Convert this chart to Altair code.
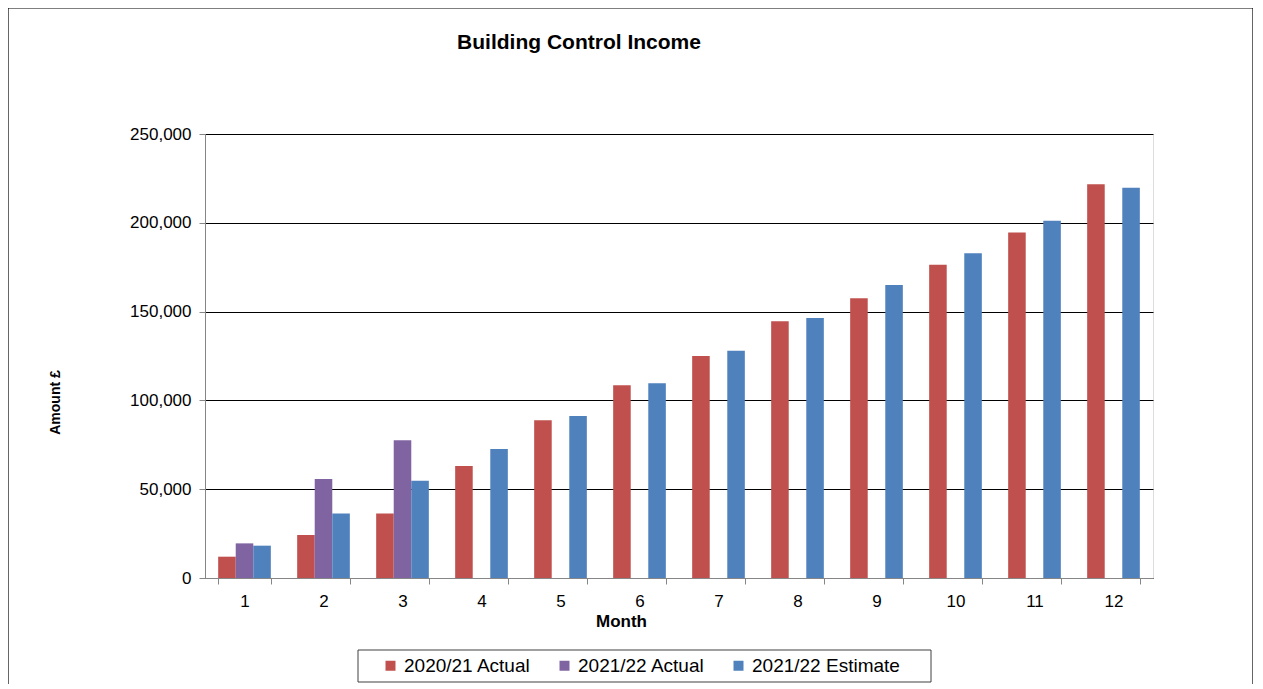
import altair as alt
import pandas as pd

months = list(range(1, 13))
series_names = ["2020/21 Actual", "2021/22 Actual", "2021/22 Estimate"]
actual_2020_21 = [12000, 24200, 36300, 63000, 88800, 108500, 125000, 144500, 157500, 176400, 194600, 221700]
actual_2021_22 = [19500, 55700, 77500]  # months 1-3 only
estimate_2021_22 = [18200, 36300, 54800, 72600, 91200, 109600, 128000, 146400, 165000, 182800, 201200, 219800]
colors = ["#C0504D", "#8064A2", "#4F81BD"]
y_ticks = [0, 50000, 100000, 150000, 200000, 250000]
chart_title = "Building Control Income"

rows = []
for m, v in zip(months, actual_2020_21):
    rows.append({"month": m, "series": series_names[0], "amount": v})
for m, v in zip(months, actual_2021_22):
    rows.append({"month": m, "series": series_names[1], "amount": v})
for m, v in zip(months, estimate_2021_22):
    rows.append({"month": m, "series": series_names[2], "amount": v})
df = pd.DataFrame(rows)

FONT = "Liberation Sans"

bars = alt.Chart(df).mark_bar().encode(
    x=alt.X(
        "month:O",
        scale=alt.Scale(paddingInner=1 / 3, paddingOuter=1 / 6),
        axis=alt.Axis(
            title="Month",
            labelAngle=0,
            tickBand="extent",
            tickSize=6,
            tickColor="#868686",
            domainColor="#868686",
            labelFont=FONT,
            labelFontSize=17,
            labelColor="#000000",
            labelPadding=9,
            titleFont=FONT,
            titleFontSize=17,
            titleFontWeight="bold",
            titleColor="#000000",
            titleX=416,
            titleY=43,
            titleAnchor="start",
            titleAlign="center",
            titleBaseline="middle",
            grid=False,
        ),
    ),
    xOffset=alt.XOffset(
        "series:N",
        sort=series_names,
        scale=alt.Scale(paddingInner=0, paddingOuter=0),
    ),
    y=alt.Y(
        "amount:Q",
        scale=alt.Scale(domain=[0, 250000], nice=False),
        axis=alt.Axis(
            title="Amount £",
            values=y_ticks,
            format=",d",
            tickSize=6,
            tickColor="#868686",
            domainColor="#868686",
            gridColor="#000000",
            gridWidth=1,
            labelFont=FONT,
            labelFontSize=17,
            labelColor="#000000",
            labelPadding=8,
            titleFont=FONT,
            titleFontSize=14,
            titleFontWeight="bold",
            titleColor="#000000",
            titleX=-150,
            titleY=268,
            titleAnchor="start",
            titleAlign="center",
            titleBaseline="middle",
        ),
    ),
    color=alt.Color(
        "series:N",
        sort=series_names,
        scale=alt.Scale(domain=series_names, range=colors),
        legend=alt.Legend(
            title=None,
            orient="none",
            legendX=176,
            legendY=522,
            direction="horizontal",
            columns=3,
            symbolType="square",
            symbolSize=100,
            symbolStrokeWidth=0,
            labelFont=FONT,
            labelFontSize=19,
            labelColor="#000000",
            labelOffset=4,
            columnPadding=24,
            padding=0,
        ),
    ),
)

frame = alt.Chart(alt.Data(values=[{}])).mark_rect(
    fill="transparent", stroke="#000000", strokeWidth=1.2
).encode(
    x=alt.value(-197),
    x2=alt.value(1048),
    y=alt.value(-126),
    y2=alt.value(600),
)

legend_box = alt.Chart(alt.Data(values=[{}])).mark_rect(
    fill="#ffffff", stroke="#404040", strokeWidth=1
).encode(
    x=alt.value(153),
    x2=alt.value(726),
    y=alt.value(516),
    y2=alt.value(548),
)

title_text = alt.Chart(alt.Data(values=[{"t": chart_title}])).mark_text(
    font=FONT,
    fontSize=21,
    fontWeight="bold",
    color="#000000",
    align="center",
    baseline="middle",
).encode(
    text="t:N",
    x=alt.value(374),
    y=alt.value(-91),
)

chart = alt.layer(frame, legend_box, bars, title_text).properties(
    width=948,
    height=444,
    autosize=alt.AutoSizeParams(type="none"),
    padding={"left": 197, "top": 126, "right": 100, "bottom": 106},
).configure_view(
    stroke="#868686", strokeWidth=1
).configure(background="#ffffff")

chart.save("out.html", embed_options={"renderer": "svg", "actions": False})
